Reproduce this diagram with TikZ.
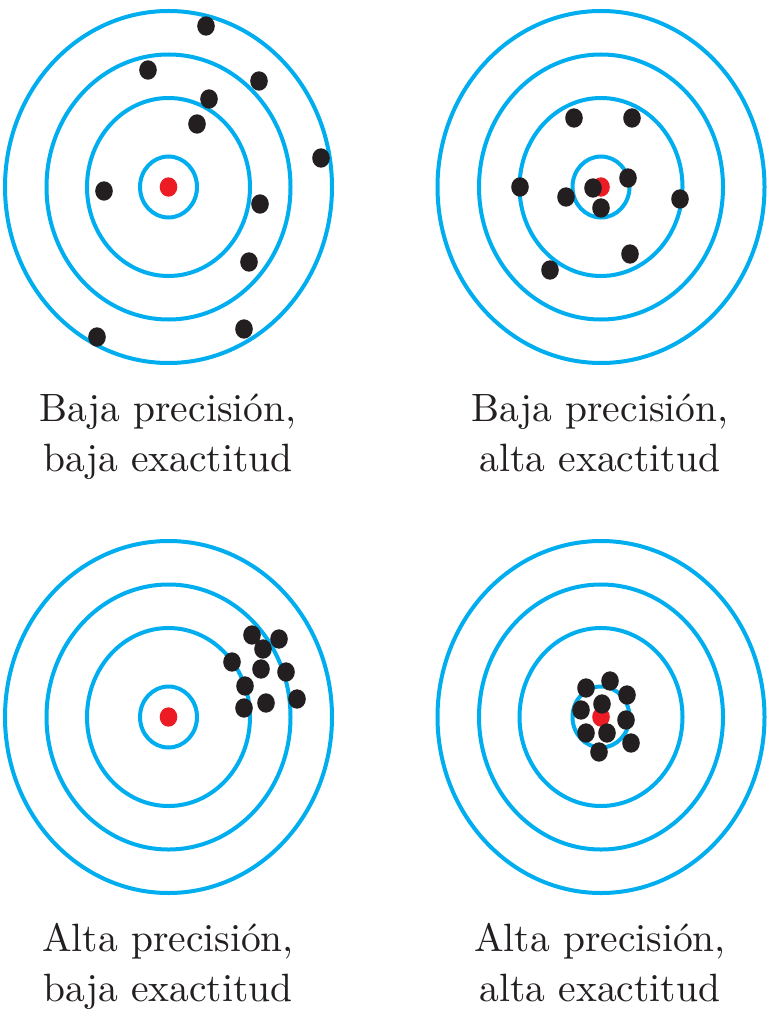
\documentclass[tikz,border=0pt]{standalone}
\usepackage{fontspec}
\usepackage{tikz}
\usepackage{xcolor}
\usetikzlibrary{shapes.geometric}
\newfontfamily\lblfont{lmroman10-regular}[Extension=.otf]
\definecolor{ringc}{HTML}{00AEEF}
\definecolor{bullc}{HTML}{ED1C24}
\definecolor{shotc}{HTML}{231F20}
\tikzset{
  ring/.style={draw=ringc, line width=4pt},
  bull/.style={ellipse, fill=bullc, minimum width=17.6pt, minimum height=19.4pt,
               inner sep=0pt},
  shot/.style={ellipse, fill=shotc, minimum width=17.6pt, minimum height=19.4pt,
               inner sep=0pt},
  caption/.style={anchor=base, inner sep=0pt, text=shotc,
                  font=\lblfont\fontsize{39.5}{46}\selectfont}
}
\begin{document}
\begin{tikzpicture}[x=1pt,y=-1pt]
        \useasboundingbox[fill=white] (0,0) rectangle (768,1024);
        % four targets
        \foreach \cx/\cy/\tg in {168.5/187/tl,601/187/tr,168.5/717/bl,601/717/br} {
          \foreach \rx/\ry in {163.5/176,122/132.5,81.5/89,28.5/30.5} {
            \draw[ring] (\cx,\cy) ellipse [x radius=\rx pt, y radius=\ry pt];
          }
          \node[bull] (bull-\tg) at (\cx,\cy) {};
        }
        % shots
        \foreach \x/\y [count=\n] in {206/26,148/70,259/81,209/99,197/124,321/158,
                                     104/191,260/204,249/262,97/337,244/329} {
          \node[shot] (shot-tl-\n) at (\x,\y) {};
        }
        \foreach \x/\y [count=\n] in {574/118,632/118,520/187,566/197,593/188,628/178,
                                     601/208,680/199,630/254,550/270} {
          \node[shot] (shot-tr-\n) at (\x,\y) {};
        }
        \foreach \x/\y [count=\n] in {252/635,279/639,263/649,232/662,261/669,286/672,
                                     245/686,297/699,244/708,266/703} {
          \node[shot] (shot-bl-\n) at (\x,\y) {};
        }
        \foreach \x/\y [count=\n] in {586/688,610/681,627/695,602/704,581/710,626/720,
                                     586/733,607/733,631/743,599/752} {
          \node[shot] (shot-br-\n) at (\x,\y) {};
        }
        % captions
        \node[caption] (cap-tl-a) at (168,421.7) {Baja precisión,};
        \node[caption] (cap-tl-b) at (168,471.7) {baja exactitud};
        \node[caption] (cap-tr-a) at (600,421.7) {Baja precisión,};
        \node[caption] (cap-tr-b) at (600,471.7) {alta exactitud};
        \node[caption] (cap-bl-a) at (168,951.7) {Alta precisión,};
        \node[caption] (cap-bl-b) at (168,1001.7) {baja exactitud};
        \node[caption] (cap-br-a) at (600,951.7) {Alta precisión,};
        \node[caption] (cap-br-b) at (600,1001.7) {alta exactitud};
      \end{tikzpicture}
\end{document}
